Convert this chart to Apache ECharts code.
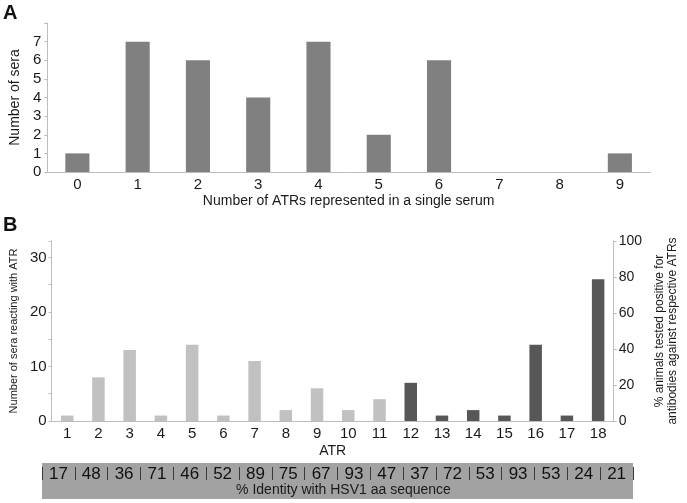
<!DOCTYPE html>
<html>
<head>
<meta charset="utf-8">
<script src="https://cdn.jsdelivr.net/npm/echarts@6/dist/echarts.min.js"></script>
<style>
  html, body { margin: 0; padding: 0; background: #fff; }
  #chart { width: 687px; height: 503px; }
</style>
</head>
<body>
<div id="chart"></div>
<script>
// panel A - how many ATRs each serum reacts with
var atrCountCats = ['0', '1', '2', '3', '4', '5', '6', '7', '8', '9'];
var seraPerCount = [1, 7, 6, 4, 7, 2, 6, 0, 0, 1];

// panel B - sera reacting with each ATR
var atrNames = ['1', '2', '3', '4', '5', '6', '7', '8', '9', '10', '11', '12', '13', '14', '15', '16', '17', '18'];
var seraPerAtr = [1, 8, 13, 1, 14, 1, 11, 2, 6, 2, 4, 7, 1, 2, 1, 14, 1, 26];
var identityHsv1 = [17, 48, 36, 71, 46, 52, 89, 75, 67, 93, 47, 37, 72, 53, 93, 53, 24, 21];
var darkFromAtr = 12;   // ATRs from here on are drawn dark
var totalSera = 33;     // left axis max, right axis = percent of this

var font = 'Liberation Sans, Arial, sans-serif';
var axisGray = '#bdbdbd';

var barsB = seraPerAtr.map(function (v, i) {
    return {
        value: v,
        itemStyle: { color: (i + 1 >= darkFromAtr) ? '#575757' : '#c1c1c1' }
    };
});

var chart = echarts.init(document.getElementById('chart'), null, { renderer: 'canvas' });

var option = {
    backgroundColor: '#fff',
    animation: false,
    textStyle: { fontFamily: font, color: '#1a1a1a' },
    title: [
        { text: 'A', left: 3, top: 3, padding: 0,
          textStyle: { fontSize: 20, fontWeight: 'bold', fontFamily: font, color: '#111' } },
        { text: 'B', left: 3, top: 215, padding: 0,
          textStyle: { fontSize: 20, fontWeight: 'bold', fontFamily: font, color: '#111' } },
        { text: '% Identity with HSV1 aa sequence', left: 'center', top: 483, padding: 0, z: 10,
          textStyle: { fontSize: 14, fontWeight: 'normal', fontFamily: font, color: '#1a1a1a' } }
    ],
    // grey box behind the identity row
    graphic: [{
        type: 'rect', z: -10, silent: true,
        shape: { x: 42, y: 463, width: 591, height: 36 },
        style: { fill: '#a2a2a2' }
    }],
    grid: [
        { left: 41, right: 37, top: 23, bottom: 331 },
        { left: 41, right: 53, top: 241, bottom: 82 },
        { left: 42, right: 54, top: 467, height: 13 }
    ],
    xAxis: [
        {
            type: 'category', gridIndex: 0, data: atrCountCats,
            axisLine: { lineStyle: { color: axisGray } },
            axisTick: { length: 3, lineStyle: { color: axisGray } },
            axisLabel: { fontSize: 15, color: '#1a1a1a', margin: 5 },
            name: 'Number of ATRs represented in a single serum',
            nameLocation: 'middle', nameGap: 22,
            nameTextStyle: { fontSize: 14, color: '#1a1a1a' }
        },
        {
            type: 'category', gridIndex: 1, data: atrNames,
            axisLine: { lineStyle: { color: axisGray } },
            axisTick: { length: 14, lineStyle: { color: axisGray } },
            axisLabel: { fontSize: 15, color: '#1a1a1a', margin: 5 },
            name: 'ATR', nameLocation: 'middle', nameGap: 23,
            nameTextStyle: { fontSize: 14, color: '#1a1a1a' }
        },
        {
            type: 'category', gridIndex: 2, data: identityHsv1, position: 'top',
            axisLine: { show: false },
            axisTick: { show: false },
            splitLine: { show: true, interval: 0, lineStyle: { color: '#3a3a3a', width: 1 } },
            axisLabel: { fontSize: 17, color: '#111', margin: -16, interval: 0 }
        }
    ],
    yAxis: [
        {
            type: 'value', gridIndex: 0, min: 0, max: 8, interval: 1,
            axisLine: { show: true, lineStyle: { color: axisGray } },
            axisTick: { show: true, length: 3, lineStyle: { color: axisGray } },
            splitLine: { show: false },
            axisLabel: {
                fontSize: 15, color: '#1a1a1a', margin: 6,
                formatter: function (v) { return v < 8 ? String(v) : ''; }
            },
            name: 'Number of sera', nameLocation: 'middle', nameGap: 24,
            nameTextStyle: { fontSize: 14, color: '#1a1a1a' }
        },
        {
            type: 'value', gridIndex: 1, min: 0, max: totalSera, interval: 5,
            axisLine: { show: true, lineStyle: { color: axisGray } },
            axisTick: { show: true, length: 3, lineStyle: { color: axisGray } },
            splitLine: { show: false },
            axisLabel: {
                fontSize: 15, color: '#1a1a1a', margin: 5,
                formatter: function (v) { return (v % 10 === 0) ? String(v) : ''; }
            },
            name: 'Number of sera reacting with ATR', nameLocation: 'middle', nameGap: 24,
            nameTextStyle: { fontSize: 11, color: '#1a1a1a' }
        },
        {
            type: 'value', gridIndex: 1, position: 'right', min: 0, max: 100, interval: 20,
            axisLine: { show: true, lineStyle: { color: axisGray } },
            axisTick: { show: true, length: 3, lineStyle: { color: axisGray } },
            splitLine: { show: false },
            axisLabel: { fontSize: 14, color: '#1a1a1a', margin: 5 },
            name: '% animals tested positive for\nantibodies against respective ATRs',
            nameLocation: 'middle', nameGap: 33, nameRotate: 90,
            nameTextStyle: { fontSize: 12, color: '#1a1a1a', lineHeight: 13 }
        },
        {
            // hidden axis, only so the identity row has a grid of its own
            type: 'value', gridIndex: 2, show: false
        }
    ],
    series: [
        {
            type: 'bar', xAxisIndex: 0, yAxisIndex: 0, data: seraPerCount,
            barWidth: '40%', itemStyle: { color: '#808080' }
        },
        {
            type: 'bar', xAxisIndex: 1, yAxisIndex: 1, data: barsB,
            barWidth: '40%'
        }
    ]
};

chart.setOption(option);
window.addEventListener('resize', function () { chart.resize(); }, false);
</script>
</body>
</html>
